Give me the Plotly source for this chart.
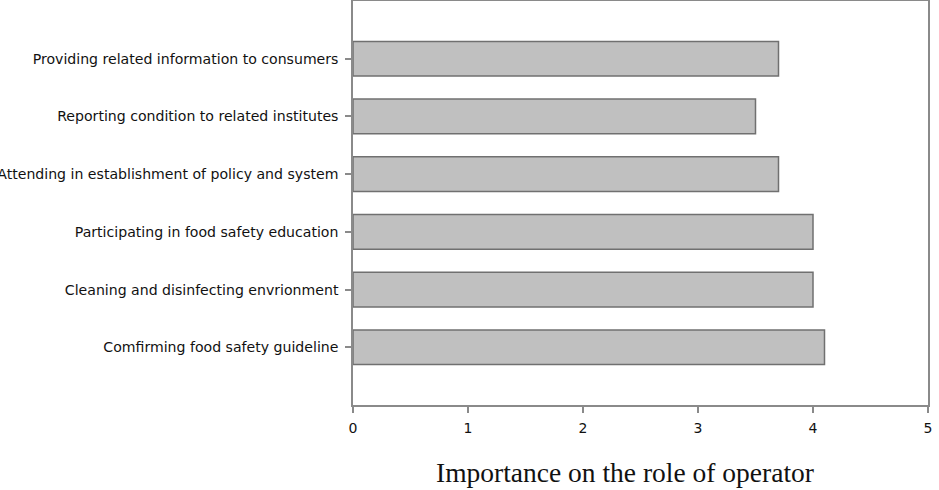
import plotly.graph_objects as go

categories = [
    "Comfirming food safety guideline",
    "Cleaning and disinfecting envrionment",
    "Participating in food safety education",
    "Attending in establishment of policy and system",
    "Reporting condition to related institutes",
    "Providing related information to consumers",
]
values = [4.1, 4.0, 4.0, 3.7, 3.5, 3.7]
x_ticks = [0, 1, 2, 3, 4, 5]
x_title = "Importance on the role of operator"

fig = go.Figure()
fig.add_trace(go.Bar(
    y=categories, x=values, orientation="h", width=0.6,
    marker=dict(color="#c0c0c0", line=dict(color="#707070", width=1.5)),
))

fig.update_layout(
    width=939, height=490,
    margin=dict(l=353, r=11, t=1, b=85),
    plot_bgcolor="white", paper_bgcolor="white",
    showlegend=False,
    font=dict(family="DejaVu Sans", size=14, color="#1a1a1a"),
)
fig.update_xaxes(
    range=[0, 5], tickvals=x_ticks, ticktext=[str(t) for t in x_ticks],
    showgrid=False, zeroline=False, automargin=False,
    showline=True, linecolor="#8a8a8a", linewidth=1.5, mirror=True,
    ticks="outside", ticklen=6, tickcolor="#8a8a8a", tickwidth=1.5,
    ticklabelstandoff=3,
    tickfont=dict(family="DejaVu Sans", size=14, color="#111111"),
)
fig.update_yaxes(
    type="category", categoryorder="array", categoryarray=categories,
    range=[-1, 6], showgrid=False, zeroline=False, automargin=False,
    showline=True, linecolor="#8a8a8a", linewidth=1.5, mirror=True,
    ticks="outside", ticklen=6, tickcolor="#8a8a8a", tickwidth=1.5,
    ticklabelstandoff=4,
    tickfont=dict(family="DejaVu Sans", size=14.1, color="#111111"),
)
fig.add_annotation(
    text=x_title, xref="paper", yref="paper", x=0.473, y=0,
    xanchor="center", yanchor="middle", yshift=-67, showarrow=False,
    font=dict(family="Liberation Serif", size=27.5, color="#111111"),
)
fig.write_html("out.html")
